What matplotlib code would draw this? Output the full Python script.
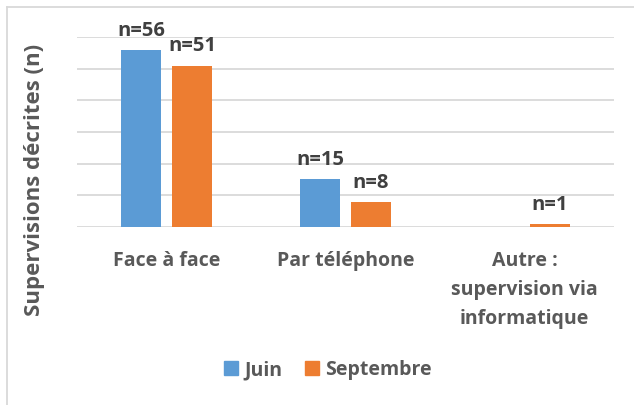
import numpy as np
import matplotlib
matplotlib.use('Agg')
from matplotlib import pyplot as plt
from matplotlib.lines import Line2D
from matplotlib.patches import Patch

# données
categories = ['Face à face', 'Par téléphone', 'Autre :\nsupervision via\ninformatique']
juin = [56, 15, 0]
septembre = [51, 8, 1]
labels_juin = ['n=56', 'n=15', '']
labels_sept = ['n=51', 'n=8', 'n=1']

bleu = '#5B9BD5'
orange = '#ED7D31'
gris = '#595959'

plt.rcParams['font.family'] = ['Open Sans', 'DejaVu Sans']
plt.rcParams['font.weight'] = 'bold'

W, H = 634, 405
fig = plt.figure(figsize=(W / 100, H / 100), dpi=100)
# zone du graphique en pixels : x 77-614, y 37-227
ax = fig.add_axes([77 / W, 1 - 227 / H, (614 - 77) / W, (227 - 37) / H])

x = np.arange(len(categories))
largeur = 0.224
dx = 0.142
b1 = ax.bar(x - dx, juin, largeur, color=bleu, zorder=3)
b2 = ax.bar(x + dx, septembre, largeur, color=orange, zorder=3)

for rect, lab in zip(b1, labels_juin):
    if lab:
        ax.annotate(lab, (rect.get_x() + rect.get_width() / 2, rect.get_height()),
                    xytext=(0, 6.5), textcoords='offset points', ha='center', va='bottom',
                    fontsize=14.5, fontweight='bold', color='#404040')
for rect, lab in zip(b2, labels_sept):
    ax.annotate(lab, (rect.get_x() + rect.get_width() / 2, rect.get_height()),
                xytext=(0, 6.5), textcoords='offset points', ha='center', va='bottom',
                fontsize=14.5, fontweight='bold', color='#404040')

ax.set_xlim(-0.5, 2.5)
ax.set_ylim(0, 60)
ax.set_yticks(np.arange(0, 61, 10))
ax.set_yticklabels([])
ax.yaxis.grid(True, color='#d9d9d9', linewidth=1.3, zorder=0)
ax.tick_params(axis='y', length=0)
ax.set_xticks(x)
ax.set_xticklabels(categories, fontsize=14, fontweight='bold', color=gris, linespacing=1.62)
ax.tick_params(axis='x', length=0, pad=17)
for s in ax.spines.values():
    s.set_visible(False)

fig.text(35 / W, 1 - 180 / H, 'Supervisions décrites (n)', rotation=90, ha='center', va='center',
         fontsize=16, fontweight='bold', color=gris)

handles = [Patch(color=bleu, label='Juin'), Patch(color=orange, label='Septembre')]
fig.legend(handles=handles, loc='center', bbox_to_anchor=(328 / W, 1 - 370 / H), ncol=2,
           frameon=False, prop={'size': 14, 'weight': 'bold'}, labelcolor=gris,
           handlelength=0.72, handleheight=0.72, handletextpad=0.3, columnspacing=1.2)

# cadre du graphique (gauche et haut)
fig.add_artist(Line2D([7 / W, 7 / W], [0, 1 - 7 / H], color='#d9d9d9', linewidth=1.3))
fig.add_artist(Line2D([7 / W, 1], [1 - 7 / H, 1 - 7 / H], color='#d9d9d9', linewidth=1.3))

plt.savefig('out.png', dpi=100)
